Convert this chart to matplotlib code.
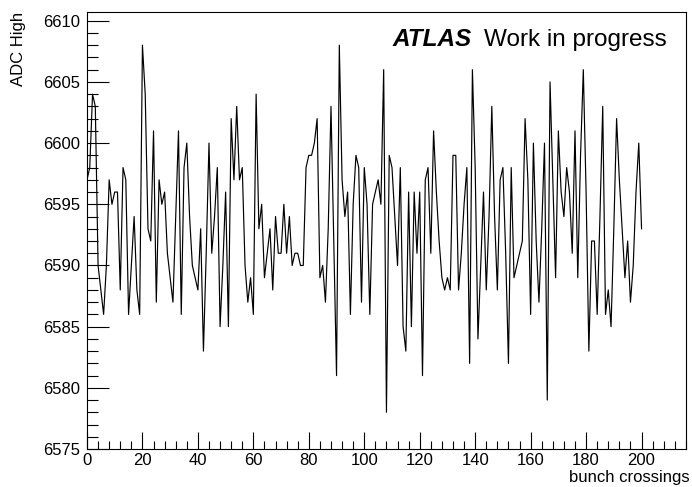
import numpy as np
import matplotlib
matplotlib.use("Agg")
import matplotlib.pyplot as plt
from matplotlib.ticker import MultipleLocator

plt.rcParams['font.family'] = ['Liberation Sans', 'DejaVu Sans']

# ADC high value per bunch crossing
adc_high = [
    6597, 6598, 6604, 6603, 6590, 6588, 6586, 6590, 6597, 6595,
    6596, 6596, 6588, 6598, 6597, 6586, 6590, 6594, 6588, 6586,
    6608, 6604, 6593, 6592, 6601, 6587, 6597, 6595, 6596, 6591,
    6589, 6587, 6594, 6601, 6586, 6598, 6600, 6594, 6590, 6589,
    6588, 6593, 6583, 6591, 6600, 6591, 6594, 6598, 6585, 6590,
    6596, 6585, 6602, 6597, 6603, 6597, 6598, 6590, 6587, 6589,
    6586, 6604, 6593, 6595, 6589, 6591, 6593, 6588, 6594, 6591,
    6591, 6595, 6591, 6594, 6590, 6591, 6591, 6590, 6590, 6598,
    6599, 6599, 6600, 6602, 6589, 6590, 6587, 6593, 6603, 6592,
    6581, 6608, 6597, 6594, 6596, 6586, 6595, 6599, 6598, 6587,
    6598, 6595, 6586, 6595, 6596, 6597, 6595, 6606, 6578, 6599,
    6598, 6594, 6590, 6598, 6585, 6583, 6596, 6585, 6596, 6591,
    6596, 6581, 6597, 6598, 6591, 6601, 6596, 6592, 6589, 6588,
    6589, 6588, 6599, 6599, 6588, 6591, 6595, 6598, 6582, 6606,
    6598, 6584, 6590, 6596, 6588, 6594, 6603, 6594, 6588, 6597,
    6598, 6591, 6582, 6598, 6589, 6590, 6591, 6592, 6602, 6597,
    6586, 6600, 6592, 6587, 6593, 6600, 6579, 6605, 6597, 6589,
    6601, 6596, 6594, 6598, 6596, 6591, 6601, 6589, 6599, 6606,
    6596, 6583, 6592, 6592, 6586, 6594, 6603, 6586, 6588, 6585,
    6593, 6602, 6597, 6593, 6589, 6592, 6587, 6590, 6596, 6600,
    6593,
]
bunch = np.arange(len(adc_high))

fig = plt.figure(figsize=(6.92, 4.87), dpi=100)
ax = fig.add_axes([0.1257, 0.078, 0.8655, 0.897])
ax.plot(bunch, adc_high, color='black', lw=0.85)

ax.set_xlim(0, 216)
ax.set_ylim(6575, 6610.7)
ax.xaxis.set_major_locator(MultipleLocator(20))
ax.xaxis.set_minor_locator(MultipleLocator(4))
ax.yaxis.set_major_locator(MultipleLocator(5))
ax.yaxis.set_minor_locator(MultipleLocator(1))
ax.tick_params(which='both', direction='in', top=False, right=False,
               labelsize=12, width=0.8)
ax.tick_params(which='major', axis='x', length=12)
ax.tick_params(which='minor', axis='x', length=6)
ax.tick_params(which='major', axis='y', length=16)
ax.tick_params(which='minor', axis='y', length=8)
ax.tick_params(axis='x', pad=3)
ax.tick_params(axis='y', pad=5)
for s in ax.spines.values():
    s.set_linewidth(0.8)

fig.text(0.997, 0.004, 'bunch crossings', ha='right', va='bottom', fontsize=12)
fig.text(0.016, 0.975, 'ADC High', ha='left', va='top', rotation=90, fontsize=12)

# experiment label, top right
fig.text(393 / 692, 1 - 40 / 487, 'ATLAS', fontsize=17.5,
         fontweight='bold', fontstyle='italic', va='center', ha='left')
fig.text(484 / 692, 1 - 40 / 487, 'Work in progress', fontsize=17.5,
         va='center', ha='left')

fig.savefig('out.png', dpi=100)
